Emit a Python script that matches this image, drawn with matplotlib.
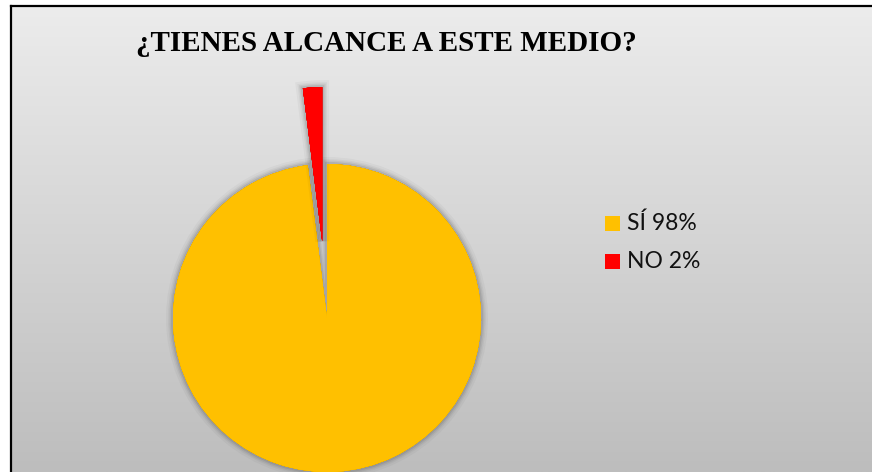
import numpy as np
import matplotlib.pyplot as plt
from matplotlib import patheffects as pe
from matplotlib.patches import Rectangle

# Datos de la encuesta
labels = ["SÍ 98%", "NO 2%"]
values = [98, 2]
colors = ["#FFC000", "#FF0000"]
explode = [0, 77]          # desplazamiento en px de la porción "NO"

W, H = 872, 472

fig = plt.figure(figsize=(W / 100, H / 100), dpi=100)
ax = fig.add_axes([0, 0, 1, 1])

# Fondo con degradado vertical gris
grad = np.linspace(236, 189, 256) / 255
img = np.repeat(np.repeat(grad[:, None], 2, axis=1)[..., None], 3, axis=2)
ax.imshow(img, extent=(11, W, 0, H - 6), aspect="auto", zorder=0)

# Marco
ax.plot([11, 11], [0, H - 6], color="black", lw=1.6, zorder=1,
        solid_capstyle="projecting")
ax.plot([11, W], [H - 6, H - 6], color="black", lw=1.6, zorder=1,
        solid_capstyle="projecting")

# Sombra difusa de las porciones
shadow = [pe.withStroke(linewidth=lw, foreground=(0, 0, 0, a))
          for lw, a in [(10, 0.03), (7, 0.04), (5, 0.06), (3, 0.08)]]
shadow.append(pe.Normal())

wedges, _ = ax.pie(values, colors=colors, explode=explode,
                   startangle=90, counterclock=False,
                   center=(327, H - 318), radius=154,
                   wedgeprops=dict(linewidth=0, zorder=2))
for w in wedges:
    w.set_path_effects(shadow)

ax.set_xlim(0, W)
ax.set_ylim(0, H)
ax.set_aspect("auto")
ax.axis("off")

# Título
ax.text(136, H - 51, "¿TIENES ALCANCE A ESTE MEDIO?", fontsize=21,
        fontweight="bold", family="Liberation Serif", ha="left",
        va="baseline", color="black")

# Leyenda
for i, (lab, col) in enumerate(zip(labels, colors)):
    yc = H - 223.5 - i * 38
    ax.add_patch(Rectangle((605, yc - 7.5), 15, 15, color=col, lw=0))
    ax.text(627, yc, lab, fontsize=16.5, family="Lato", ha="left",
            va="center", color="#111111")

fig.savefig("out.png", dpi=100)
